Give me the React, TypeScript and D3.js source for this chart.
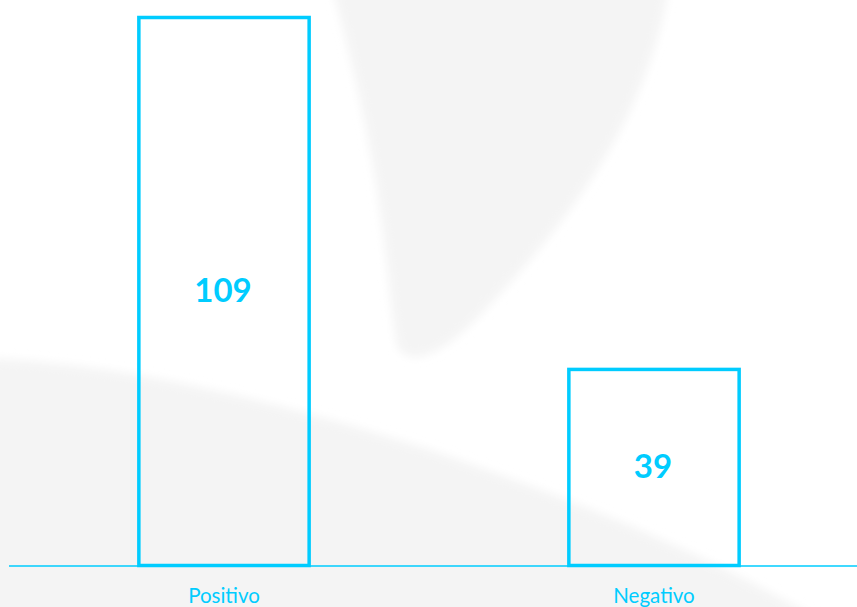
import React from 'react'
import * as d3 from 'd3'

const categories = ['Positivo', 'Negativo']
const values = [109, 39]

const W = 857
const H = 607
const CYAN = '#00ccff'

export default function App() {
  const baseY = 565.5
  const topY = 17.5

  const x = d3
    .scaleBand()
    .domain(categories)
    .range([9, 869])
    .paddingInner(0.604)
    .paddingOuter(0.302)

  const y = d3.scaleLinear().domain([0, 109]).range([baseY, topY])

  return (
    <svg
      width={W}
      height={H}
      style={{ position: 'absolute', left: 0, top: 0, fontFamily: 'Lato, "Open Sans", sans-serif' }}
    >
      <defs>
        <filter id="soft" x="-20%" y="-20%" width="140%" height="140%">
          <feGaussianBlur stdDeviation="5" />
        </filter>
      </defs>
      <rect width={W} height={H} fill="#ffffff" />
      {/* faint watermark shapes */}
      <g fill="#f4f4f4" filter="url(#soft)">
        <path d="M330,-20 L670,-20 C650,110 580,210 480,315 C445,352 412,368 398,348 C386,300 392,200 330,-20 Z" />
        <path d="M-20,358 C100,362 250,392 430,450 C560,495 690,545 820,620 L-20,620 Z" />
      </g>

      <line x1={9} x2={W} y1={566} y2={566} stroke={CYAN} strokeWidth={1.5} />

      {categories.map((c, i) => {
        const x0 = x(c) ?? 0
        const bw = x.bandwidth()
        const yTop = y(values[i])
        const mid = (yTop + baseY) / 2
        return (
          <g key={c}>
            <rect
              x={x0}
              y={yTop}
              width={bw}
              height={baseY - yTop}
              fill="none"
              stroke={CYAN}
              strokeWidth={3.5}
            />
            <text
              x={x0 + bw / 2 - 1}
              y={mid + 10.5}
              textAnchor="middle"
              fill={CYAN}
              fontWeight="bold"
              fontSize={33}
            >
              {values[i]}
            </text>
            <text x={x0 + bw / 2} y={603} textAnchor="middle" fill={CYAN} fontSize={20.5}>
              {c}
            </text>
          </g>
        )
      })}
    </svg>
  )
}
